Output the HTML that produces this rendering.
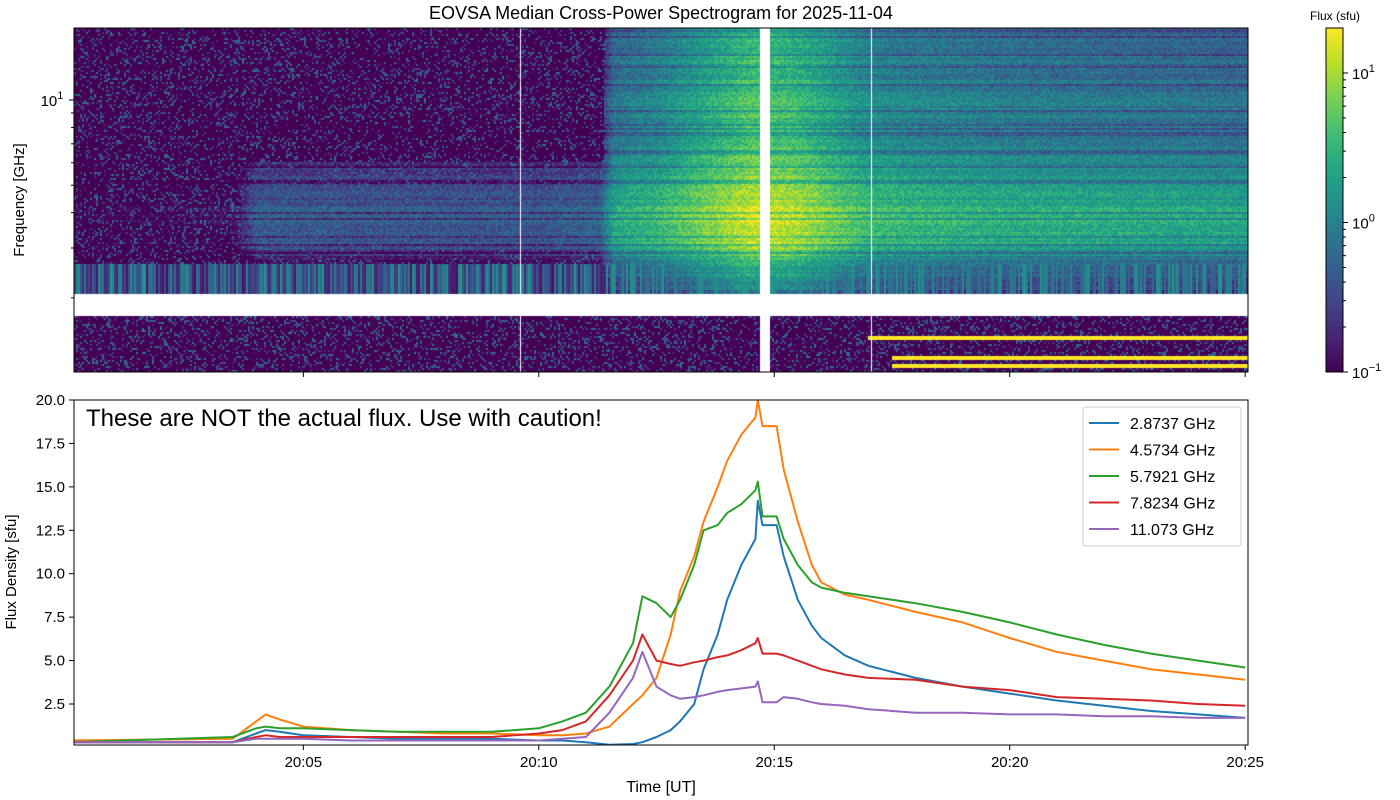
<!DOCTYPE html>
<html><head><meta charset="utf-8">
<style>
body{margin:0;background:#fff;width:1400px;height:800px;overflow:hidden;font-family:"Liberation Sans","DejaVu Sans",sans-serif;}
#wrap{position:relative;width:1400px;height:800px;}
canvas{position:absolute;left:74px;top:28px;}
svg{position:absolute;left:0;top:0;}
</style></head>
<body>
<div id="wrap">
<canvas id="spec" width="1174" height="344"></canvas>
<svg id="svg" width="1400" height="800"></svg>
</div>
<script>
// ---- data ----
const lineTimes = [0,3.5,4,4.2,4.5,5,6,7,8,9,10,10.5,11,11.5,12,12.2,12.5,12.8,13,13.3,13.5,13.8,14,14.3,14.6,14.65,14.75,15.05,15.2,15.5,15.8,16,16.5,17,18,19,20,21,22,23,24,25];
const blueVals = [0.3,0.3,0.8,1.0,0.9,0.7,0.6,0.5,0.5,0.5,0.4,0.4,0.3,0.15,0.2,0.3,0.6,1.0,1.5,2.5,4.5,6.5,8.5,10.5,12,14.2,12.8,12.8,11,8.5,7,6.3,5.3,4.7,4.0,3.5,3.1,2.7,2.4,2.1,1.9,1.7];
const orangeVals = [0.4,0.5,1.5,1.9,1.6,1.2,1.0,0.9,0.8,0.8,0.7,0.7,0.8,1.2,2.5,3.0,4.0,6.5,9,11,13,15,16.5,18,19,20,18.5,18.5,16,13,10.5,9.5,8.8,8.5,7.8,7.2,6.3,5.5,5.0,4.5,4.2,3.9];
const greenVals = [0.3,0.6,1.1,1.2,1.1,1.1,1.0,0.9,0.9,0.9,1.1,1.5,2.0,3.5,6,8.7,8.3,7.5,8.5,10.5,12.5,12.8,13.5,14,14.8,15.3,13.3,13.3,12,10.5,9.5,9.2,8.9,8.7,8.3,7.8,7.2,6.5,5.9,5.4,5.0,4.6];
const redVals = [0.3,0.3,0.6,0.7,0.6,0.6,0.6,0.6,0.6,0.6,0.8,1.0,1.5,3,5,6.5,5,4.8,4.7,4.9,5.0,5.2,5.3,5.6,6.0,6.3,5.4,5.4,5.3,5.0,4.7,4.5,4.2,4.0,3.9,3.5,3.3,2.9,2.8,2.7,2.5,2.4];
const purpleVals = [0.3,0.3,0.5,0.5,0.5,0.5,0.4,0.4,0.4,0.4,0.4,0.5,0.6,2,4,5.5,3.5,3.0,2.8,2.9,3.0,3.2,3.3,3.4,3.5,3.8,2.6,2.6,2.9,2.8,2.6,2.5,2.4,2.2,2.0,2.0,1.9,1.9,1.8,1.8,1.7,1.7];
const seriesNames = ["2.8737 GHz","4.5734 GHz","5.7921 GHz","7.8234 GHz","11.073 GHz"];
const xTickLabels = ["20:05","20:10","20:15","20:20","20:25"];
const xTickMins = [5,10,15,20,25];
const yTicks = [2.5,5.0,7.5,10.0,12.5,15.0,17.5,20.0];
// spectrogram model (log10 flux)
const specTimes = [0,3.5,4,6,10,11.3,11.6,12.5,13.5,14.5,15.5,17,20,25];
const specLevel = [-1.0,-0.9,-0.3,-0.35,-0.35,-0.25,0.4,0.55,0.85,1.15,1.05,0.6,0.45,0.35];
const specLogF = [0.0,0.236,0.31,0.42,0.5,0.6,0.7,0.8,0.9,1.0,1.1,1.26];
const specGain = [-2,-2,-1.2,-0.6,0.0,0.0,-0.15,-0.35,-0.45,-0.5,-0.55,-0.6];
const rfiLogF = [0.16,0.085,0.06];
const rfiStart = [17,17.5,17.5];

// ---- scales ----
const X0=74,X1=1248,T0=0.13,T1=25.06;
const xs=t=>X0+(t-T0)/(T1-T0)*(X1-X0);
const BY0=745,BY1=400,V0=0.14,V1=20;
const ys=v=>BY0-(v-V0)/(V1-V0)*(BY0-BY1);
const fy=lf=>100-(lf-1)*283;
const yToLf=y=>1-(y-100)/283;
function interp(xa,ya,x){if(x<=xa[0])return ya[0];for(let i=1;i<xa.length;i++){if(x<=xa[i]){const r=(x-xa[i-1])/(xa[i]-xa[i-1]);return ya[i-1]+r*(ya[i]-ya[i-1]);}}return ya[ya.length-1];}
function hash(a,b){let h=(a*374761393+b*668265263)|0;h=(h^(h>>>13))*1274126177|0;h=h^(h>>>16);return ((h>>>0)%10000)/10000;}
const vir=[[68,1,84],[72,36,117],[65,68,135],[53,95,141],[42,120,142],[33,145,140],[34,168,132],[68,191,112],[122,209,81],[189,223,38],[253,231,37]];
function cmap(u){u=Math.max(0,Math.min(1,u))*10;const i=Math.min(9,Math.floor(u)),r=u-i;const a=vir[i],b=vir[i+1];return [a[0]+(b[0]-a[0])*r,a[1]+(b[1]-a[1])*r,a[2]+(b[2]-a[2])*r];}

// ---- spectrogram ----
const cv=document.getElementById('spec'),ctx=cv.getContext('2d');
const img=ctx.createImageData(1174,344);
const LMIN=-1,LMAX=Math.log10(20);
for(let py=0;py<344;py+=2){
  const lf=yToLf(py+28+1);
  const row=py>>1;
  const rowN=hash(7,row);
  const gain=interp(specLogF,specGain,lf);
  for(let px=0;px<1174;px+=2){
    const col=px>>1;
    const t=T0+(px+1)/1174*(T1-T0);
    let white=false;
    if(lf>0.237&&lf<0.311)white=true;
    if(t>14.68&&t<14.9)white=true;
    let v;
    if(white){v=null;}
    else{
      const h=hash(col,row);
      let bg=-1.0+(h>0.7?(h-0.7)*3:0);
      if(lf>0.31&&lf<0.42){bg=-0.9+hash(col,3)*1.1;}
      let burst=interp(specTimes,specLevel,t)+gain+(h-0.5)*0.35+(rowN-0.5)*0.3;
      if(t<11.4&&lf>0.78)burst-=0.5;
      if(lf<0.236)burst=-2;
      if(rowN>0.85&&lf>0.42){bg-=0.3;burst-=0.5;}
      v=Math.max(bg,burst);
      for(let k=0;k<rfiLogF.length;k++){if(Math.abs(lf-rfiLogF[k])<0.007&&t>rfiStart[k])v=1.3;}
    }
    for(let dy=0;dy<2;dy++)for(let dx=0;dx<2;dx++){
      const idx=((py+dy)*1174+(px+dx))*4;
      if(v===null){img.data[idx]=255;img.data[idx+1]=255;img.data[idx+2]=255;}
      else{const c=cmap((v-LMIN)/(LMAX-LMIN));img.data[idx]=c[0];img.data[idx+1]=c[1];img.data[idx+2]=c[2];}
      img.data[idx+3]=255;
    }
  }
}
ctx.putImageData(img,0,0);
ctx.fillStyle='#fff';
[9.6,17.05].forEach(t=>{ctx.fillRect(Math.round(xs(t)-X0),0,1,344);});

// ---- svg ----
const S=document.getElementById('svg');const NS='http://www.w3.org/2000/svg';
function el(tag,attrs,parent,txt){const e=document.createElementNS(NS,tag);for(const k in attrs)e.setAttribute(k,attrs[k]);if(txt!==undefined)e.textContent=txt;(parent||S).appendChild(e);return e;}

let e;
e=el('text',{x:661,y:19,'font-size':18,'text-anchor':'middle',fill:'#000'},S,'EOVSA Median Cross-Power Spectrogram for 2025-11-04');

e=el('rect',{x:74,y:28,width:1174,height:344,fill:'none',stroke:'#000','stroke-width':1});

xTickMins.forEach(m=>{el('line',{x1:xs(m),x2:xs(m),y1:372,y2:377,stroke:'#000'});});
el('line',{x1:69,x2:74,y1:100,y2:100,stroke:'#000'});
[2,3,4,5,6,7,8,9].forEach(f=>{const y=fy(Math.log10(f));if(y>28&&y<372)el('line',{x1:71,x2:74,y1:y,y2:y,stroke:'#000'});});
e=el('text',{x:52,y:106,'font-size':15,'text-anchor':'middle'},S);

el('tspan',{},e,'10');el('tspan',{dy:-7,'font-size':11},e,'1');
e=el('text',{x:24,y:200,'font-size':15,'text-anchor':'middle',transform:'rotate(-90 24 200)'},S,'Frequency [GHz]');


// colorbar
const defs=el('defs',{});const g=el('linearGradient',{id:'vg',x1:0,y1:1,x2:0,y2:0},defs);
vir.forEach((c,i)=>el('stop',{offset:(i/10),'stop-color':`rgb(${c[0]},${c[1]},${c[2]})`},g));
e=el('rect',{x:1326,y:28,width:17,height:344,fill:'url(#vg)',stroke:'#000'});

e=el('text',{x:1335,y:20,'font-size':12,'text-anchor':'middle'},S,'Flux (sfu)');

const cby=l=>372-(l-LMIN)/(LMAX-LMIN)*344;
[[1,'1'],[0,'0'],[-1,'−1']].forEach(([l,s])=>{const y=cby(l);el('line',{x1:1343,x2:1348,y1:y,y2:y,stroke:'#000'});
 const t=el('text',{x:1352,y:y+6,'font-size':15},S);el('tspan',{},t,'10');el('tspan',{dy:-7,'font-size':11},t,s);});
for(let d=-1;d<2;d++)for(let m=2;m<10;m++){const l=d+Math.log10(m);if(l<LMAX)el('line',{x1:1343,x2:1346,y1:cby(l),y2:cby(l),stroke:'#000'});}

// bottom axes
const clip=el('clipPath',{id:'cp'},defs);el('rect',{x:74,y:400,width:1174,height:345},clip);
const colors=['#1f77b4','#ff7f0e','#2ca02c','#d62728','#9467bd'];
const allVals=[blueVals,orangeVals,greenVals,redVals,purpleVals];
const keys=['series-2873-ghz','series-4573-ghz','series-5792-ghz','series-7823-ghz','series-11073-ghz'];
allVals.forEach((vals,i)=>{
  const pts=lineTimes.map((t,j)=>xs(t).toFixed(1)+','+ys(vals[j]).toFixed(1)).join(' ');
  const p=el('polyline',{points:pts,fill:'none',stroke:colors[i],'stroke-width':2,'clip-path':'url(#cp)','stroke-linejoin':'round'});
  
  
});
e=el('rect',{x:74,y:400,width:1174,height:345,fill:'none',stroke:'#000'});

xTickMins.forEach((m,i)=>{const x=xs(m);el('line',{x1:x,x2:x,y1:745,y2:750,stroke:'#000'});
 const t=el('text',{x:x,y:767,'font-size':15,'text-anchor':'middle'},S,xTickLabels[i]);});
yTicks.forEach(v=>{const y=ys(v);el('line',{x1:69,x2:74,y1:y,y2:y,stroke:'#000'});
 const t=el('text',{x:65,y:y+5,'font-size':15,'text-anchor':'end'},S,v.toFixed(1));});
e=el('text',{x:661,y:792,'font-size':16,'text-anchor':'middle'},S,'Time [UT]');

e=el('text',{x:16,y:572,'font-size':15,'text-anchor':'middle',transform:'rotate(-90 16 572)'},S,'Flux Density [sfu]');

e=el('text',{x:86,y:426,'font-size':24},S,'These are NOT the actual flux. Use with caution!');

// legend
e=el('rect',{x:1083,y:407,width:158,height:139,rx:3,fill:'#fff',stroke:'#ccc'});

seriesNames.forEach((n,i)=>{const y=423+i*26.5;
 const l=el('line',{x1:1089,x2:1119,y1:y,y2:y,stroke:colors[i],'stroke-width':2});
 const t=el('text',{x:1130,y:y+6,'font-size':16},S,n);});
</script>
</body></html>
